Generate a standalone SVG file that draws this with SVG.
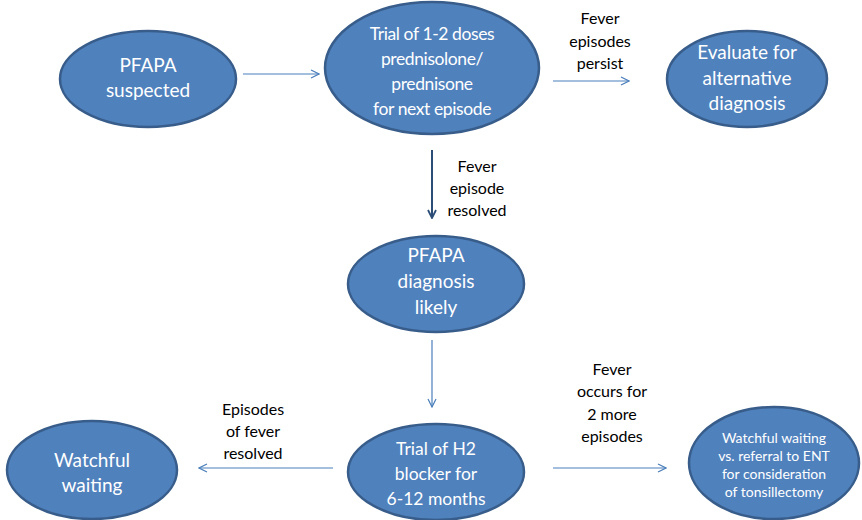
<svg xmlns="http://www.w3.org/2000/svg" width="862" height="520" viewBox="0 0 862 520">
  <defs>
    <marker id="chev" viewBox="0 0 10 10" refX="9" refY="5" markerWidth="10" markerHeight="10" markerUnits="userSpaceOnUse" orient="auto">
      <path d="M1,1 L9,5 L1,9" fill="none" stroke="#4A7EBB" stroke-width="1.2"/>
    </marker>
    <marker id="chevDark" viewBox="0 0 10 10" refX="9" refY="5" markerWidth="10" markerHeight="10" markerUnits="userSpaceOnUse" orient="auto">
      <path d="M1,1 L9,5 L1,9" fill="none" stroke="#2C4D75" stroke-width="1.8"/>
    </marker>
  </defs>
  <style>
    .node ellipse { fill: #4F81BD; stroke: #385D8A; stroke-width: 2.5; }
    .node text { fill: #FFFFFF; font-family: Lato, "Open Sans", sans-serif; font-size: 19px; text-anchor: middle; }
    .node text.mid { font-size: 17.5px; }
    .node text.tight { font-size: 17.5px; letter-spacing: -0.4px; }
    .node text.small { font-size: 14px; }
    .edge { fill: none; stroke: #4A7EBB; stroke-width: 1.2; marker-end: url(#chev); }
    .edge.dark { stroke: #2C4D75; stroke-width: 2; marker-end: url(#chevDark); }
    .lbl { fill: #000000; font-family: Lato, "Open Sans", sans-serif; font-size: 16px; text-anchor: middle; }
  </style>
  <rect width="862" height="520" fill="#FFFFFF"/>

  <!-- connectors and their labels -->
  <g id="connectors">
    <line class="edge" x1="243" y1="74" x2="319" y2="74"/>
    <line class="edge" x1="553" y1="81" x2="629" y2="81"/>
    <line class="edge dark" x1="432" y1="150" x2="432" y2="218"/>
    <line class="edge" x1="432" y1="340" x2="432" y2="407"/>
    <line class="edge" x1="333" y1="468" x2="199" y2="468"/>
    <line class="edge" x1="553" y1="468" x2="666" y2="468"/>
    <text class="lbl"><tspan x="600" y="24">Fever</tspan><tspan x="600" y="47">episodes</tspan><tspan x="600" y="69">persist</tspan></text>
    <text class="lbl"><tspan x="477" y="172">Fever</tspan><tspan x="477" y="194">episode</tspan><tspan x="477" y="216">resolved</tspan></text>
    <text class="lbl"><tspan x="253" y="415">Episodes</tspan><tspan x="253" y="437">of fever</tspan><tspan x="253" y="459">resolved</tspan></text>
    <text class="lbl"><tspan x="612" y="375">Fever</tspan><tspan x="612" y="397">occurs for</tspan><tspan x="612" y="420">2 more</tspan><tspan x="612" y="442">episodes</tspan></text>
  </g>

  <g id="pfapa-suspected" class="node">
    <ellipse cx="148" cy="79" rx="88" ry="48"/>
    <text><tspan x="148" y="72">PFAPA</tspan><tspan x="148" y="97">suspected</tspan></text>
  </g>

  <g id="steroid-trial" class="node">
    <ellipse cx="432" cy="68" rx="107" ry="66"/>
    <text class="tight"><tspan x="432" y="40">Trial of 1-2 doses</tspan><tspan x="432" y="65">prednisolone/</tspan><tspan x="432" y="90">prednisone</tspan><tspan x="432" y="115">for next episode</tspan></text>
  </g>

  <g id="alternative-diagnosis" class="node">
    <ellipse cx="747" cy="79" rx="80" ry="48"/>
    <text><tspan x="747" y="59">Evaluate for</tspan><tspan x="747" y="85">alternative</tspan><tspan x="747" y="110">diagnosis</tspan></text>
  </g>

  <g id="pfapa-likely" class="node">
    <ellipse cx="436" cy="284" rx="88" ry="48"/>
    <text><tspan x="436" y="262">PFAPA</tspan><tspan x="436" y="288">diagnosis</tspan><tspan x="436" y="314">likely</tspan></text>
  </g>

  <g id="watchful-waiting" class="node">
    <ellipse cx="92" cy="470" rx="85" ry="49"/>
    <text><tspan x="92" y="467">Watchful</tspan><tspan x="92" y="492">waiting</tspan></text>
  </g>

  <g id="h2-blocker" class="node">
    <ellipse cx="436" cy="472" rx="88" ry="48"/>
    <text class="mid"><tspan x="436" y="455">Trial of H2</tspan><tspan x="436" y="480">blocker for</tspan><tspan x="436" y="505">6-12 months</tspan></text>
  </g>

  <g id="ent-referral" class="node">
    <ellipse cx="774" cy="463" rx="85" ry="56"/>
    <text class="small"><tspan x="774" y="443">Watchful waiting</tspan><tspan x="774" y="461">vs. referral to ENT</tspan><tspan x="774" y="479">for consideration</tspan><tspan x="774" y="497">of tonsillectomy</tspan></text>
  </g>
</svg>
